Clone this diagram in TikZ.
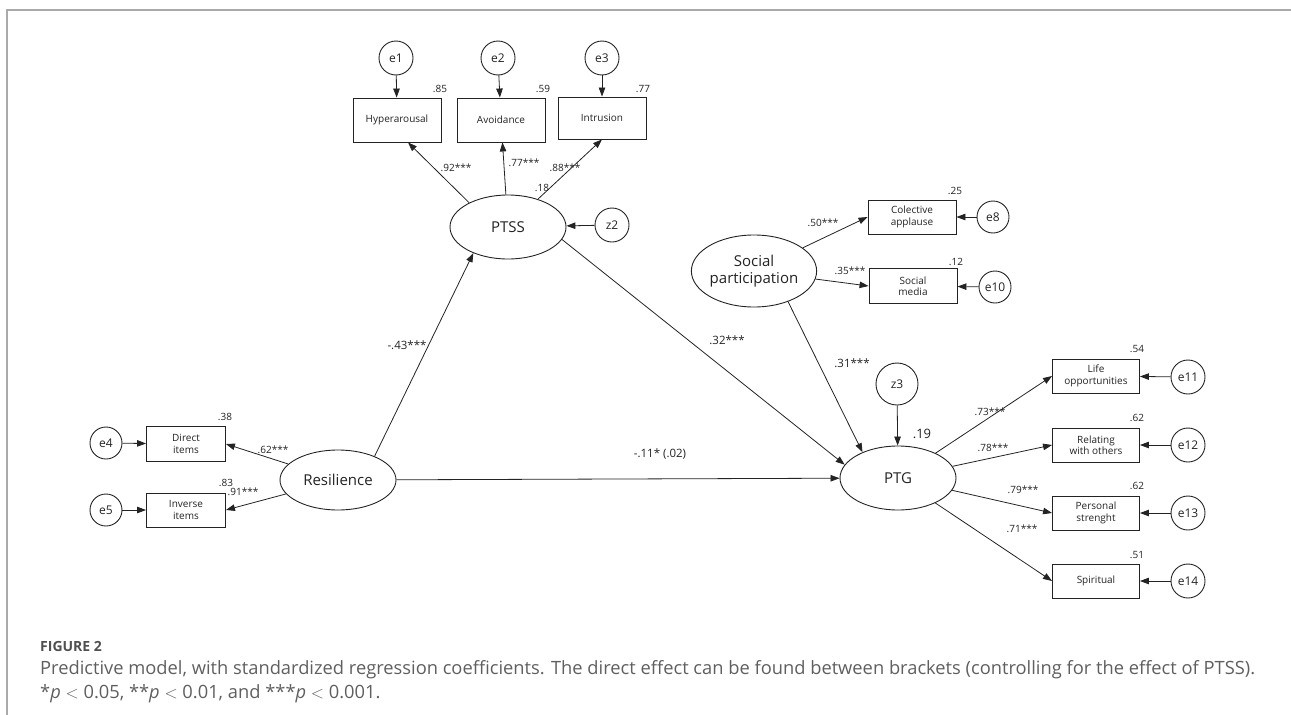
\documentclass[tikz,border=0pt]{standalone}
\usepackage{fontspec}
\setmainfont{Open Sans}
\usetikzlibrary{arrows.meta, shapes.geometric}
\definecolor{inkc}{RGB}{35,35,35}
\definecolor{framec}{RGB}{170,170,170}
\definecolor{capc}{RGB}{95,95,95}
\definecolor{headc}{RGB}{80,80,80}
\tikzset{
  latent/.style={ellipse, draw=inkc, line width=0.9pt, inner sep=0pt,
                 minimum width=116pt, minimum height=64pt, align=center,
                 font=\fontsize{15}{17}\selectfont, text=inkc},
  item/.style={rectangle, draw=inkc, line width=0.9pt, inner sep=0pt,
               minimum width=88pt, minimum height=35pt, align=center,
               font=\fontsize{10}{11.5}\selectfont, text=inkc},
  err/.style={circle, draw=inkc, line width=0.9pt, inner sep=0pt,
              minimum size=34pt, font=\fontsize{12}{14}\selectfont, text=inkc},
  arr/.style={-{Triangle[length=9pt, width=6.5pt]}, line width=0.8pt, draw=inkc},
  coef/.style={font=\fontsize{10}{11}\selectfont, text=inkc, inner sep=0pt},
  bigcoef/.style={font=\fontsize{11.5}{13}\selectfont, text=inkc, inner sep=0pt},
}
\begin{document}
\begin{tikzpicture}[x=1pt, y=-1pt]
  \useasboundingbox (0,0) rectangle (1291,715);
  \draw[framec, line width=1.5pt] (7,715) -- (7,10) -- (1291,10);

  % latent variables
  \node[latent] (ptss) at (508,227) {PTSS};
  \node[latent, minimum width=115pt, minimum height=72pt] (soc) at (754,271) {Social\\participation};
  \node[latent, minimum height=60pt] (res) at (338,480) {Resilience};
  \node[latent] (ptg) at (898,478) {PTG};

  % indicators
  \node[item, minimum height=44pt] (hyp) at (397,120) {Hyperarousal};
  \node[item, minimum height=44pt] (avo) at (501,120) {Avoidance};
  \node[item, minimum height=42pt] (intr) at (602,118) {Intrusion};
  \node[item, minimum height=34pt] (colap) at (912,217) {Colective\\applause};
  \node[item] (socmed) at (913,286) {Social\\media};
  \node[item, minimum width=79pt] (direct) at (186,444) {Direct\\items};
  \node[item, minimum width=79pt, minimum height=34pt] (inverse) at (186,510) {Inverse\\items};
  \node[item, minimum width=87pt, minimum height=34pt] (life) at (1096,376) {Life\\opportunities};
  \node[item, minimum width=87pt, minimum height=34pt] (relat) at (1096,445) {Relating\\with others};
  \node[item, minimum width=87pt, minimum height=34pt] (pers) at (1096,513) {Personal\\strenght};
  \node[item, minimum width=87pt, minimum height=34pt] (spir) at (1096,581) {Spiritual};

  % error terms
  \node[err] (e1) at (396,58) {e1};
  \node[err] (e2) at (498,58) {e2};
  \node[err] (e3) at (602,58) {e3};
  \node[err] (z2) at (612,225) {z2};
  \node[err, minimum size=32pt] (e8) at (993,217) {e8};
  \node[err, minimum size=32pt] (e10) at (995,287) {e10};
  \node[err, minimum size=32pt] (e4) at (106,443) {e4};
  \node[err, minimum size=32pt] (e5) at (106,510) {e5};
  \node[err, minimum size=42pt] (z3) at (897,384) {z3};
  \node[err] (e11) at (1188,377) {e11};
  \node[err] (e12) at (1188,445) {e12};
  \node[err] (e13) at (1188,513) {e13};
  \node[err] (e14) at (1188,581) {e14};

  % paths
  \draw[arr] (e1) -- (hyp);
  \draw[arr] (e2) -- (avo);
  \draw[arr] (e3) -- (intr);
  \draw[arr] (ptss.148) -- ([xshift=11pt]hyp.south);
  \draw[arr] (ptss) -- (avo);
  \draw[arr] (ptss) -- (intr.south);
  \draw[arr] (z2) -- (ptss);
  \draw[arr] (res.33) -- (ptss.217);
  \draw[arr] (res) -- (direct.east);
  \draw[arr] (res) -- (inverse.east);
  \draw[arr] (e4) -- (direct);
  \draw[arr] (e5) -- (inverse);
  \draw[arr] (res) -- (ptg);
  \draw[arr] (ptss.-13) -- (ptg.166);
  \draw[arr] (soc.-42) -- (ptg.144);
  \draw[arr] (soc) -- (colap.west);
  \draw[arr] (soc) -- (socmed.west);
  \draw[arr] (e8) -- (colap);
  \draw[arr] (e10) -- (socmed);
  \draw[arr] (z3) -- (ptg);
  \draw[arr] (ptg) -- (life.west);
  \draw[arr] (ptg) -- (relat.west);
  \draw[arr] (ptg) -- (pers.west);
  \draw[arr] (ptg) -- (spir.west);
  \draw[arr] (e11) -- (life);
  \draw[arr] (e12) -- (relat);
  \draw[arr] (e13) -- (pers);
  \draw[arr] (e14) -- (spir);

  % estimates
  \node[coef] (r2hyp) at (440,89) {.85};
  \node[coef] (r2avo) at (543,89) {.59};
  \node[coef] (r2intr) at (643,89) {.77};
  \node[coef] (lhyp) at (456,168) {.92***};
  \node[coef] (lavo) at (524,163) {.77***};
  \node[coef] (lintr) at (565,168) {.88***};
  \node[coef] (r2ptss) at (542,188) {.18};
  \node[coef] (r2colap) at (955,191) {.25};
  \node[coef] (r2socmed) at (956,262) {.12};
  \node[coef] (lcolap) at (823,223) {.50***};
  \node[coef] (lsocmed) at (850,271) {.35***};
  \node[coef] (r2direct) at (225,417) {.38};
  \node[coef] (r2inverse) at (226,483) {.83};
  \node[coef] (ldirect) at (273,450) {.62***};
  \node[coef] (linverse) at (243,492) {.91***};
  \node[coef] (r2life) at (1137,349) {.54};
  \node[coef] (r2relat) at (1137,418) {.62};
  \node[coef] (r2pers) at (1137,486) {.62};
  \node[coef] (r2spir) at (1137,555) {.51};
  \node[coef] (llife) at (990,412) {.73***};
  \node[coef] (lrelat) at (993,448) {.78***};
  \node[coef] (lpers) at (1023,490) {.79***};
  \node[coef] (lspir) at (1022,529) {.71***};
  \node[bigcoef, font=\fontsize{13}{15}\selectfont] (r2ptg) at (922,434) {.19};
  \node[bigcoef] (bsoc) at (852,363) {.31***};
  \node[bigcoef] (bptss) at (727,340) {.32***};
  \node[bigcoef] (bres) at (407,345) {-.43***};
  \node[bigcoef] (bdirect) at (660,454) {-.11* (.02)};

  % caption
  \node[anchor=base west, inner sep=0pt, text=headc,
        font=\fontsize{14}{16}\selectfont\bfseries] (fig) at (40,651) {FIGURE 2};
  \node[anchor=base west, inner sep=0pt, text=capc,
        font=\fontsize{18.3}{21}\selectfont] (cap1) at (40,674)
    {Predictive model, with standardized regression coefficients. The direct effect can be found between brackets (controlling for the effect of PTSS).};
  \node[anchor=base west, inner sep=0pt, text=capc,
        font=\fontsize{18.3}{21}\selectfont] (cap2) at (40,698)
    {*\textit{p} $<$ 0.05, **\textit{p} $<$ 0.01, and ***\textit{p} $<$ 0.001.};
\end{tikzpicture}
\end{document}
